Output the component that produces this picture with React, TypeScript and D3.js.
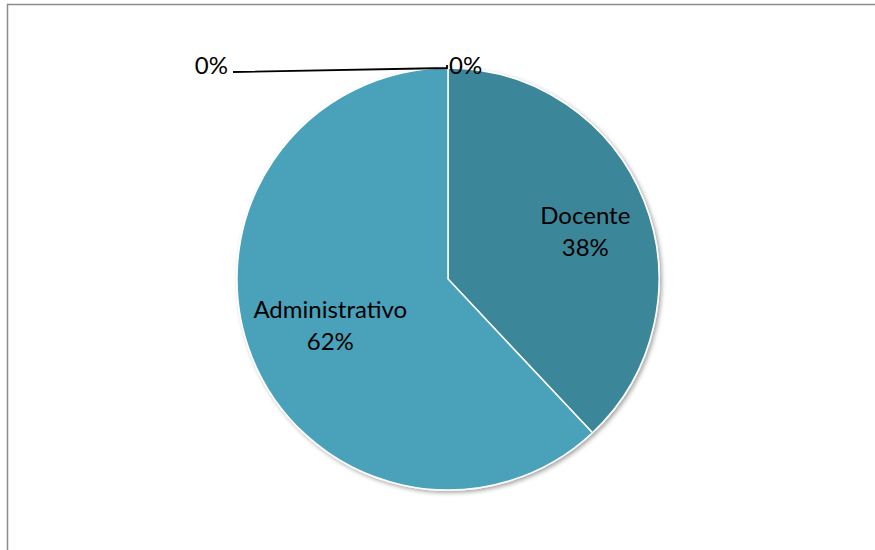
import React from "react";
import * as d3 from "d3";

const categories = ["Docente", "Administrativo", "", ""];
const values = [38, 62, 0, 0];
const colors = ["#3a8799", "#48a2ba", "#48a2ba", "#48a2ba"];

const W = 875;
const H = 550;
const cx = 448;
const cy = 279;
const R = 211;

export default function App() {
  const pie = d3.pie<number>().sort(null).value((d) => d)(values);
  const arc = d3.arc<d3.PieArcDatum<number>>().innerRadius(0).outerRadius(R);
  const total = d3.sum(values);
  const fmt = (v: number) => `${Math.round((v / total) * 100)}%`;
  const labelR = [0.7 * R, 0.6 * R];
  const labelDy = [-1, -8];
  const font = "Lato, 'Open Sans', sans-serif";
  const fs = 24;

  return (
    <svg
      width={W}
      height={H}
      style={{ position: "absolute", left: 0, top: 0, background: "#fff" }}
    >
      <defs>
        <filter id="sh" x="-20%" y="-20%" width="140%" height="140%">
          <feDropShadow dx="2" dy="2" stdDeviation="2" floodColor="#000" floodOpacity="0.35" />
        </filter>
      </defs>
      <rect x={7.5} y={4.5} width={W + 20} height={H + 20} fill="#fff" stroke="#8c8c8c" strokeWidth={1.5} />
      <g transform={`translate(${cx},${cy})`}>
        <g filter="url(#sh)">
          {pie.map((p, i) =>
            p.value > 0 ? (
              <path key={i} d={arc(p) || ""} fill={colors[i]} stroke="#fff" strokeWidth={1.5} />
            ) : null
          )}
        </g>
        {pie.slice(0, 2).map((p, i) => {
          const a = (p.startAngle + p.endAngle) / 2;
          const x = Math.sin(a) * labelR[i];
          const y = -Math.cos(a) * labelR[i];
          return (
            <text key={i} x={x} y={y} textAnchor="middle" fontFamily={font} fontSize={fs} fill="#000">
              <tspan x={x} dy={labelDy[i]}>{categories[i]}</tspan>
              <tspan x={x} dy={32}>{fmt(p.value)}</tspan>
            </text>
          );
        })}
        {(() => {
          const p = pie[3];
          const a = p.startAngle;
          const px = Math.sin(a) * R;
          const py = -Math.cos(a) * R;
          return (
            <g>
              <path
                d={`M${px - 215},${py + 4}L${px - 1},${py}L${px - 1},${py - 3}`}
                fill="none"
                stroke="#000"
                strokeWidth={1.8}
              />
              <text x={px + 1} y={py + 6} fontFamily={font} fontSize={fs} fill="#000">
                {fmt(pie[3].value)}
              </text>
              <text x={px - 220} y={py + 6} textAnchor="end" fontFamily={font} fontSize={fs} fill="#000">
                {fmt(pie[2].value)}
              </text>
            </g>
          );
        })()}
      </g>
    </svg>
  );
}
